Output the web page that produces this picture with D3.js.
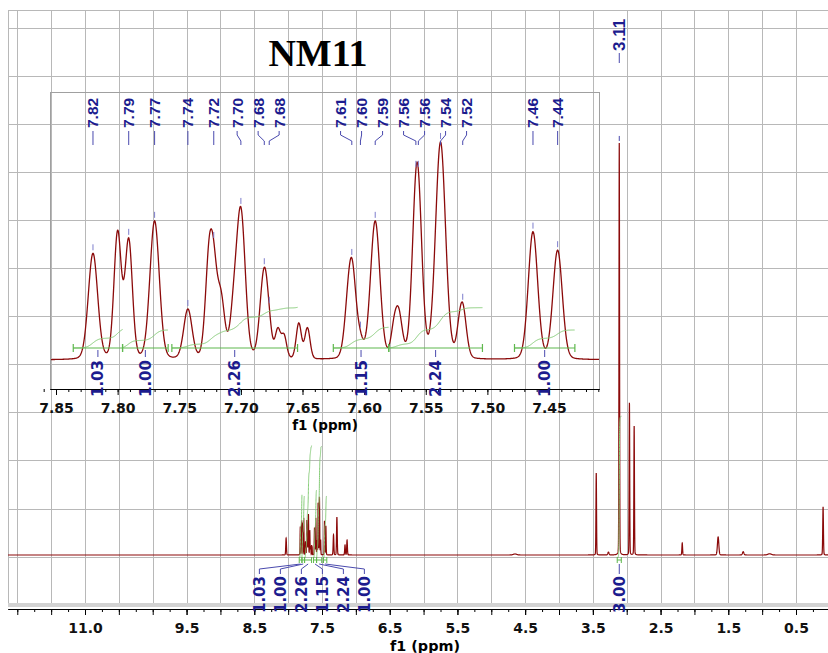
<!DOCTYPE html>
<html>
<head>
<meta charset="utf-8">
<script src="https://cdn.jsdelivr.net/npm/d3@7/dist/d3.min.js"></script>
<style>
  body { margin: 0; background: #fff; }
  svg { display: block; }
</style>
</head>
<body>
<div id="chart"></div>
<script>
// Page size
var svgWidth = 828;
var svgHeight = 653;

// Aromatic multiplet: peak positions (ppm), observed peak tops
// (relative units, the 3.11 singlet = 100) and half widths (ppm)
var aromaticPpm = [7.820, 7.800, 7.791, 7.770, 7.743, 7.726, 7.722, 7.716, 7.706, 7.700,
                   7.681, 7.677, 7.670, 7.665, 7.653, 7.646, 7.614, 7.610, 7.603, 7.591,
                   7.576, 7.572, 7.558, 7.556, 7.538, 7.523, 7.520, 7.463, 7.443];
var aromaticHeight = [6.9, 8.4, 7.9, 9.0, 3.3, 7.7, 7.7, 4.5, 5.0, 9.9,
                      6.0, 3.5, 2.1, 1.7, 2.4, 2.1, 4.3, 6.6, 1.9, 9.0,
                      2.7, 3.4, 12.3, 12.3, 14.1, 2.9, 3.7, 8.3, 7.1];
var aromaticWidth = [0.0045, 0.0035, 0.0035, 0.0045, 0.0040, 0.0035, 0.0035, 0.0035, 0.0035, 0.0042,
                     0.0040, 0.0030, 0.0025, 0.0025, 0.0025, 0.0025, 0.0035, 0.0040, 0.0030, 0.0045,
                     0.0030, 0.0035, 0.0040, 0.0040, 0.0048, 0.0030, 0.0035, 0.0045, 0.0045];

// Other signals of the full spectrum
var otherPpm    = [8.03, 7.33, 7.28, 7.16, 7.13, 4.65, 3.45, 3.27, 3.11, 2.96, 2.89, 2.18, 1.65, 1.28, 0.89, 0.10];
var otherHeight = [4.1, 4.9, 9.2, 2.4, 3.6, 0.25, 19.9, 0.7, 100, 36.9, 31.3, 2.9, 4.4, 0.8, 0.3, 11.7];
var otherWidth  = [0.006, 0.006, 0.006, 0.006, 0.006, 0.03, 0.005, 0.01, 0.005, 0.005, 0.005, 0.006, 0.012, 0.012, 0.03, 0.006];

// Peak picking labels
var peakLabelPpm = [7.820, 7.791, 7.770, 7.743, 7.722, 7.700, 7.681, 7.677, 7.610, 7.603,
                    7.591, 7.558, 7.556, 7.538, 7.520, 7.463, 7.443];
var mainPeakLabelPpm = [3.11];

// Integrals: region start, region end (ppm) and value
var integralFrom  = [7.836, 7.796, 7.756, 7.625, 7.580, 7.478];
var integralTo    = [7.796, 7.759, 7.654, 7.580, 7.504, 7.429];
var integralValue = [1.03, 1.00, 2.26, 1.15, 2.24, 1.00];
var mainIntegralFrom = [3.14];
var mainIntegralTo = [3.08];
var mainIntegralValue = [3.00];

// Axis tick labels
var mainTickLabels = [11.0, 9.5, 8.5, 7.5, 6.5, 5.5, 4.5, 3.5, 2.5, 1.5, 0.5];
var insetTickLabels = [7.85, 7.80, 7.75, 7.70, 7.65, 7.60, 7.55, 7.50, 7.45];

// Colours
var specColor = "#8b0a0a";
var gridColor = "#b8b8b8";
var labelColor = "#1c1c8e";
var lineBlue = "#4a4aae";
var greenBar = "#5fb84e";
var greenCurve = "#86cc78";
var boldFont = "'DejaVu Sans', Verdana, sans-serif";
var labelFont = "'Liberation Sans', Arial, sans-serif";

// Scales
var xMain = d3.scaleLinear().domain([11, 0.5]).range([85, 796]);
var yMain = d3.scaleLinear().domain([0, 100]).range([555, 143]);
var xIns = d3.scaleLinear().domain([7.85, 7.45]).range([56, 549]);
var yIns = d3.scaleLinear().domain([0, 14.1]).range([360, 142]);

var inset = {left: 50, top: 92, right: 599, bottom: 389};

// Line shape: mostly gaussian with a little lorentzian
function shape(d, w) {
  var t = d / w;
  return 0.88 * Math.exp(-0.693 * t * t) + 0.12 / (1 + t * t);
}

// Turn observed peak tops into line amplitudes (overlapping peaks add up)
var aromaticAmp = aromaticHeight.slice();
for (var it = 0; it < 120; it++) {
  aromaticAmp = aromaticAmp.map(function(a, i) {
    var m = d3.sum(aromaticPpm, function(p, j) { return aromaticAmp[j] * shape(aromaticPpm[i] - p, aromaticWidth[j]); });
    return a * aromaticHeight[i] / m;
  });
}

function spectrum(ppm) {
  var s = 0;
  aromaticPpm.forEach(function(p, i) { s += aromaticAmp[i] * shape(ppm - p, aromaticWidth[i]); });
  otherPpm.forEach(function(p, i) { s += otherHeight[i] * shape(ppm - p, otherWidth[i]); });
  return s;
}

var svg = d3.select("#chart")
  .append("svg")
  .attr("width", svgWidth)
  .attr("height", svgHeight);

// Grid
var gridG = svg.append("g").attr("stroke", gridColor).attr("stroke-width", 1);
d3.range(0.5, 12.01, 0.5).forEach(function(v) {
  var x = Math.round(xMain(v)) + 0.5;
  if (x < 8 || x > 828) return;
  gridG.append("line").attr("x1", x).attr("x2", x).attr("y1", 10).attr("y2", 604);
});
d3.range(0, 13).forEach(function(k) {
  var y = Math.round(28 + k * 48.05) + 0.5;
  gridG.append("line").attr("x1", 8).attr("x2", 828).attr("y1", y).attr("y2", y);
});
gridG.append("line").attr("x1", 8).attr("x2", 828).attr("y1", 10.5).attr("y2", 10.5);
gridG.append("line").attr("x1", 8.5).attr("x2", 8.5).attr("y1", 10).attr("y2", 604);
svg.append("rect").attr("x", 8).attr("y", 603).attr("width", 820).attr("height", 4).attr("fill", "#d2d2d2");

// Title
svg.append("text")
  .attr("x", 318).attr("y", 66)
  .attr("text-anchor", "middle")
  .attr("font-family", "'Liberation Serif', 'Times New Roman', serif")
  .attr("font-weight", "bold")
  .attr("font-size", 38)
  .text("NM11");

// Main axis
var xAxisScale = xMain.copy().domain([xMain.invert(8), xMain.invert(828)]).range([8, 828]);
var mainAxisG = svg.append("g").attr("transform", "translate(0,609)");
mainAxisG.append("g")
  .call(d3.axisBottom(xAxisScale).tickValues(d3.range(0.25, 12.1, 0.25)).tickSize(3).tickFormat("").tickSizeOuter(0));
mainAxisG.append("g")
  .call(d3.axisBottom(xAxisScale).tickValues(d3.range(0.5, 12.1, 0.5)).tickSize(6).tickFormat("").tickSizeOuter(0));
var mainLabelAxis = mainAxisG.append("g")
  .call(d3.axisBottom(xAxisScale).tickValues(mainTickLabels).tickSize(6).tickPadding(8)
    .tickFormat(d3.format(".1f")).tickSizeOuter(0));
mainLabelAxis.selectAll("text")
  .attr("font-family", boldFont).attr("font-weight", "bold").attr("font-size", 14).attr("fill", "#111");
svg.append("text")
  .attr("x", 425).attr("y", 651)
  .attr("text-anchor", "middle")
  .attr("font-family", boldFont).attr("font-weight", "bold").attr("font-size", 14.4)
  .text("f1 (ppm)");

// Main spectrum
var lo = xMain.invert(828), hi = xMain.invert(8);
var mainPts = d3.range(lo, hi, 0.001).concat(aromaticPpm, otherPpm).sort(d3.descending);
var mainLine = d3.line()
  .x(function(p) { return xMain(p); })
  .y(function(p) { return yMain(spectrum(p)); });
svg.append("path")
  .attr("d", mainLine(mainPts))
  .attr("fill", "none")
  .attr("stroke", specColor)
  .attr("stroke-width", 1.2);

// Spread labels so that they do not overlap, groups stay centred on their peaks
function spread(xs, gap) {
  var groups = xs.map(function(x) { return {raw: [x]}; });
  function place(g) {
    var c = d3.mean(g.raw);
    g.first = c - (g.raw.length - 1) / 2 * gap;
    g.last = g.first + (g.raw.length - 1) * gap;
  }
  groups.forEach(place);
  var merged = true;
  while (merged) {
    merged = false;
    for (var i = 0; i < groups.length - 1; i++) {
      if (groups[i].last + gap > groups[i + 1].first + 0.01) {
        groups[i].raw = groups[i].raw.concat(groups[i + 1].raw);
        groups.splice(i + 1, 1);
        place(groups[i]);
        merged = true;
        break;
      }
    }
  }
  var out = [];
  groups.forEach(function(g) {
    g.raw.forEach(function(r, k) { out.push(g.first + k * gap); });
  });
  return out;
}

// Main integrals (aromatic regions + 3.00)
var mainIntHeight = d3.scaleLinear().domain([1, 3]).range([62, 142]);
function integralCurve(from, to, xs, baseY, h) {
  var pts = d3.range(from, to, -0.0004);
  var vals = pts.map(spectrum);
  var total = d3.sum(vals);
  var acc = 0;
  return pts.map(function(p, i) {
    acc += vals[i];
    return [xs(p), baseY - acc / total * h];
  });
}
var allMainFrom = integralFrom.concat(mainIntegralFrom);
var allMainTo = integralTo.concat(mainIntegralTo);
var allMainValue = integralValue.concat(mainIntegralValue);
var mainIntG = svg.append("g");
allMainFrom.forEach(function(f, i) {
  var x1 = xMain(f), x2 = xMain(allMainTo[i]);
  mainIntG.append("path")
    .attr("d", d3.line()(integralCurve(f, allMainTo[i], xMain, 558, mainIntHeight(allMainValue[i]))))
    .attr("fill", "none").attr("stroke", greenCurve).attr("stroke-width", 1);
  mainIntG.append("path")
    .attr("d", "M" + x1 + ",557V563M" + x1 + ",560H" + x2 + "M" + x2 + ",557V563")
    .attr("fill", "none").attr("stroke", greenBar).attr("stroke-width", 1);
});
var aroCenters = integralFrom.map(function(f, i) { return xMain((f + integralTo[i]) / 2); });
var aroLabelX = spread(aroCenters, 21);
var mainLabelX = aroLabelX.concat(mainIntegralFrom.map(function(f, i) { return xMain((f + mainIntegralTo[i]) / 2); }));
var mainCenters = aroCenters.concat(mainIntegralFrom.map(function(f, i) { return xMain((f + mainIntegralTo[i]) / 2); }));
mainLabelX.forEach(function(lx, i) {
  svg.append("path")
    .attr("d", "M" + mainCenters[i] + ",564L" + lx + ",569V574")
    .attr("fill", "none").attr("stroke", lineBlue).attr("stroke-width", 1);
  svg.append("text")
    .attr("transform", "translate(" + (lx + 5.5) + ",576) rotate(-90)")
    .attr("text-anchor", "end")
    .attr("font-family", boldFont).attr("font-weight", "bold").attr("font-size", 15)
    .attr("fill", labelColor)
    .text(allMainValue[i].toFixed(2));
});

// Main peak label
mainPeakLabelPpm.forEach(function(p) {
  var px = xMain(p);
  var top = yMain(spectrum(p));
  svg.append("path")
    .attr("d", "M" + px + ",53V63M" + px + "," + (top - 7) + "V" + (top - 2))
    .attr("stroke", lineBlue).attr("stroke-width", 1);
  svg.append("text")
    .attr("transform", "translate(" + (px + 6) + ",51) rotate(-90)")
    .attr("font-family", labelFont).attr("font-weight", "bold").attr("font-size", 17)
    .attr("fill", labelColor)
    .text(p.toFixed(2));
});

// ---------- Inset ----------
var insG = svg.append("g");
insG.append("rect")
  .attr("x", inset.left + 0.5).attr("y", inset.top + 0.5)
  .attr("width", inset.right - inset.left).attr("height", inset.bottom - inset.top)
  .attr("fill", "none").attr("stroke", "#a0a0a0");

// Inset axis
var insAxisScale = xIns.copy().domain([xIns.invert(inset.left), xIns.invert(inset.right)]).range([inset.left, inset.right]);
var insAxisG = insG.append("g").attr("transform", "translate(0," + inset.bottom + ")");
insAxisG.append("g")
  .call(d3.axisBottom(insAxisScale).tickValues(d3.range(7.41, 7.86, 0.01)).tickSize(3).tickFormat("").tickSizeOuter(0));
var insLabelAxis = insAxisG.append("g")
  .call(d3.axisBottom(insAxisScale).tickValues(insetTickLabels).tickSize(6).tickPadding(8)
    .tickFormat(d3.format(".2f")).tickSizeOuter(0));
insLabelAxis.selectAll("text")
  .attr("font-family", boldFont).attr("font-weight", "bold").attr("font-size", 14).attr("fill", "#111");
insG.append("text")
  .attr("x", 325).attr("y", 430)
  .attr("text-anchor", "middle")
  .attr("font-family", boldFont).attr("font-weight", "bold").attr("font-size", 13.5)
  .text("f1 (ppm)");

// Inset spectrum
var insPts = d3.range(xIns.invert(inset.right), xIns.invert(inset.left + 1), 0.0003).reverse();
insG.append("path")
  .attr("d", d3.line().x(function(p) { return xIns(p); }).y(function(p) { return yIns(spectrum(p)); })(insPts))
  .attr("fill", "none")
  .attr("stroke", specColor)
  .attr("stroke-width", 1.3);

// Inset integrals
var insIntScale = d3.scaleLinear().domain([0, 1]).range([0, 18]);
integralFrom.forEach(function(f, i) {
  var x1 = xIns(f), x2 = xIns(integralTo[i]);
  var cx = (x1 + x2) / 2;
  insG.append("path")
    .attr("d", d3.line()(integralCurve(f, integralTo[i], xIns, 348, insIntScale(integralValue[i]))))
    .attr("fill", "none").attr("stroke", greenCurve).attr("stroke-width", 1);
  insG.append("path")
    .attr("d", "M" + x1 + ",344V352M" + x1 + ",348H" + x2 + "M" + x2 + ",344V352")
    .attr("fill", "none").attr("stroke", greenBar).attr("stroke-width", 1.2);
  insG.append("path")
    .attr("d", "M" + cx + ",350V357")
    .attr("stroke", lineBlue).attr("stroke-width", 1);
  insG.append("text")
    .attr("transform", "translate(" + (cx + 5.5) + ",360) rotate(-90)")
    .attr("text-anchor", "end")
    .attr("font-family", boldFont).attr("font-weight", "bold").attr("font-size", 15)
    .attr("fill", labelColor)
    .text(integralValue[i].toFixed(2));
});

// Inset peak labels
var peakX = peakLabelPpm.map(function(p) { return xIns(p); });
var peakLabelX = spread(peakX, 21);
peakLabelPpm.forEach(function(p, i) {
  var px = peakX[i], lx = peakLabelX[i];
  var top = yIns(spectrum(p));
  insG.append("path")
    .attr("d", "M" + lx + ",131V135L" + px + ",141V145")
    .attr("fill", "none").attr("stroke", lineBlue).attr("stroke-width", 1);
  insG.append("path")
    .attr("d", "M" + px + "," + (top - 9) + "V" + (top - 3))
    .attr("stroke", "#7d7dcc").attr("stroke-width", 1);
  insG.append("text")
    .attr("transform", "translate(" + (lx + 5.5) + ",128) rotate(-90)")
    .attr("font-family", labelFont).attr("font-weight", "bold").attr("font-size", 15.5)
    .attr("fill", labelColor)
    .text(p.toFixed(2));
});
</script>
</body>
</html>
